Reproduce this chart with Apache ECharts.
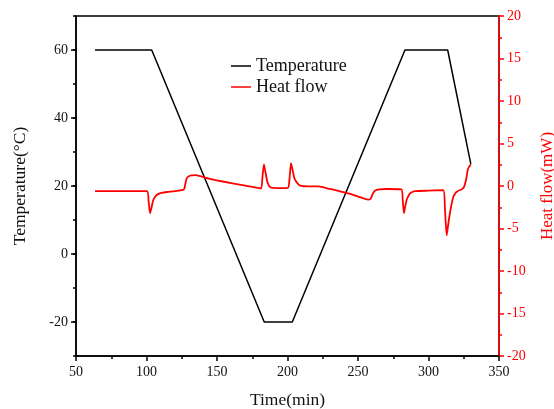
<!DOCTYPE html>
<html>
<head>
<meta charset="UTF-8">
<script src="https://cdn.jsdelivr.net/npm/echarts@6/dist/echarts.min.js"></script>
<style>
    html, body { margin: 0; padding: 0; background: #fff; }
    #chart { width: 554px; height: 409px; }
</style>
</head>
<body>
<div id="chart"></div>
<script>
    // 温度程序 (min, °C)
    var tempTime = [63.5, 103.7, 183.5, 203.4, 283.3, 313.6, 330];
    var tempValue = [60, 60, -20, -20, 60, 60, 26.5];

    // 热流 (min, mW)
    var heatTime = [63.5, 100.3, 101.5, 102.5, 103.6, 104.8, 106, 107.2, 109, 110.8, 115, 120, 126.5, 127.5, 128.5, 130, 132, 135, 138,
        145, 155, 165, 175, 181.2, 182.2, 183.3, 184.5, 185.7, 187, 188.5, 195, 200.4, 201.5, 202.5, 203.7, 204.9, 206, 207.2, 209,
        215, 222, 230, 238, 245, 252, 257, 259, 260.5, 262, 265, 270, 280.8, 281.7, 282.6, 283.5, 284.5, 285.7, 286.9, 288.5, 290.4, 300,
        310.5, 311.6, 312.9, 314, 315.2, 316.4, 317.6, 318.8, 320, 322, 323.5, 325.2, 326.6, 328, 330];
    var heatFlow = [-0.6, -0.6, -1.8, -3.2, -2.5, -1.65, -1.3, -1.06, -0.9, -0.8, -0.7, -0.6, -0.4, 0.2, 0.9, 1.15, 1.25, 1.27, 1.15,
        0.85, 0.5, 0.2, -0.1, -0.3, 1.0, 2.55, 1.5, 0.5, 0.0, -0.2, -0.25, -0.2, 1.0, 2.7, 1.8, 0.9, 0.55, 0.3, 0.05,
        -0.05, -0.05, -0.35, -0.65, -0.95, -1.35, -1.6, -1.5, -0.9, -0.55, -0.4, -0.35, -0.4, -1.6, -3.2, -2.4, -1.65, -1.2, -0.86, -0.7, -0.6, -0.55,
        -0.5, -2.5, -5.8, -4.5, -3.2, -2.1, -1.26, -0.9, -0.67, -0.5, -0.4, -0.1, 0.7, 2.0, 2.55];

    var leftMajorTicks = [-20, 0, 20, 40, 60];

    var font = 'Liberation Serif';

    function pairs(xs, ys) {
        var out = [];
        for (let i = 0; i < xs.length; i++) {
            out.push([xs[i], ys[i]]);
        }
        return out;
    }

    var chart = echarts.init(document.getElementById('chart'));
    var option = {
        animation: false,
        grid: {
            left: 76, right: 55, top: 16, bottom: 53,
            outerBoundsMode: 'none',
            containLabel: false,
            show: true, borderColor: '#000', borderWidth: 1.5
        },
        legend: {
            orient: 'vertical',
            left: 226, top: 52,
            itemGap: 3,
            itemWidth: 20, itemHeight: 10,
            textStyle: {fontFamily: font, fontSize: 18, color: '#111'},
            data: [
                {name: 'Temperature', icon: 'path://M0,0 L20,0 L20,1.5 L0,1.5 Z'},
                {name: 'Heat flow', icon: 'path://M0,0 L20,0 L20,1.5 L0,1.5 Z'}
            ]
        },
        xAxis: [{
            type: 'value',
            min: 50, max: 350, interval: 50,
            name: 'Time(min)',
            nameLocation: 'middle',
            nameGap: 35,
            nameTextStyle: {fontFamily: font, fontSize: 17.5, color: '#111'},
            axisLine: {onZero: false, lineStyle: {color: '#000', width: 1.5}},
            axisTick: {length: 5, lineStyle: {color: '#000', width: 1.5}},
            minorTick: {show: true, splitNumber: 2, length: 3, lineStyle: {color: '#000', width: 1.5}},
            axisLabel: {fontFamily: font, fontSize: 14, color: '#111', margin: 9},
            splitLine: {show: false}
        }],
        yAxis: [{
            type: 'value',
            position: 'left',
            min: -30, max: 70, interval: 10,
            name: 'Temperature(°C)',
            nameLocation: 'middle',
            nameGap: 47,
            nameTextStyle: {fontFamily: font, fontSize: 17.5, color: '#111'},
            axisLine: {show: true, onZero: false, lineStyle: {color: '#000', width: 1.5}},
            axisTick: {length: 3, lineStyle: {color: '#000', width: 1.5}},
            axisLabel: {
                fontFamily: font, fontSize: 14, color: '#111', margin: 8,
                formatter: function (v) {
                    return v % 20 === 0 ? String(v) : '';
                }
            },
            splitLine: {show: false}
        }, {
            type: 'value',
            position: 'right',
            min: -20, max: 20, interval: 5,
            name: 'Heat flow(mW)',
            nameLocation: 'middle',
            nameRotate: 90,
            nameGap: 40,
            nameTextStyle: {fontFamily: font, fontSize: 17, color: '#ff0000'},
            axisLine: {show: true, onZero: false, lineStyle: {color: '#ff0000', width: 1.5}},
            axisTick: {length: 5, lineStyle: {color: '#ff0000', width: 1.5}},
            minorTick: {show: true, splitNumber: 2, length: 3, lineStyle: {color: '#ff0000', width: 1.5}},
            axisLabel: {fontFamily: font, fontSize: 14, color: '#ff0000', margin: 8},
            splitLine: {show: false}
        }, {
            // 左轴主刻度
            type: 'value',
            position: 'left',
            min: -30, max: 70, interval: 10,
            axisLine: {show: false, onZero: false},
            axisTick: {show: true, length: 5, customValues: leftMajorTicks, lineStyle: {color: '#000', width: 1.5}},
            axisLabel: {show: false},
            splitLine: {show: false}
        }],
        series: [{
            name: 'Temperature',
            type: 'line',
            yAxisIndex: 0,
            showSymbol: false,
            lineStyle: {color: '#000', width: 1.5},
            itemStyle: {color: '#000'},
            data: pairs(tempTime, tempValue)
        }, {
            name: 'Heat flow',
            type: 'line',
            yAxisIndex: 1,
            showSymbol: false,
            smooth: 0.2,
            lineStyle: {color: '#ff0000', width: 1.8},
            itemStyle: {color: '#ff0000'},
            data: pairs(heatTime, heatFlow)
        }]
    };
    chart.setOption(option);
</script>
</body>
</html>
